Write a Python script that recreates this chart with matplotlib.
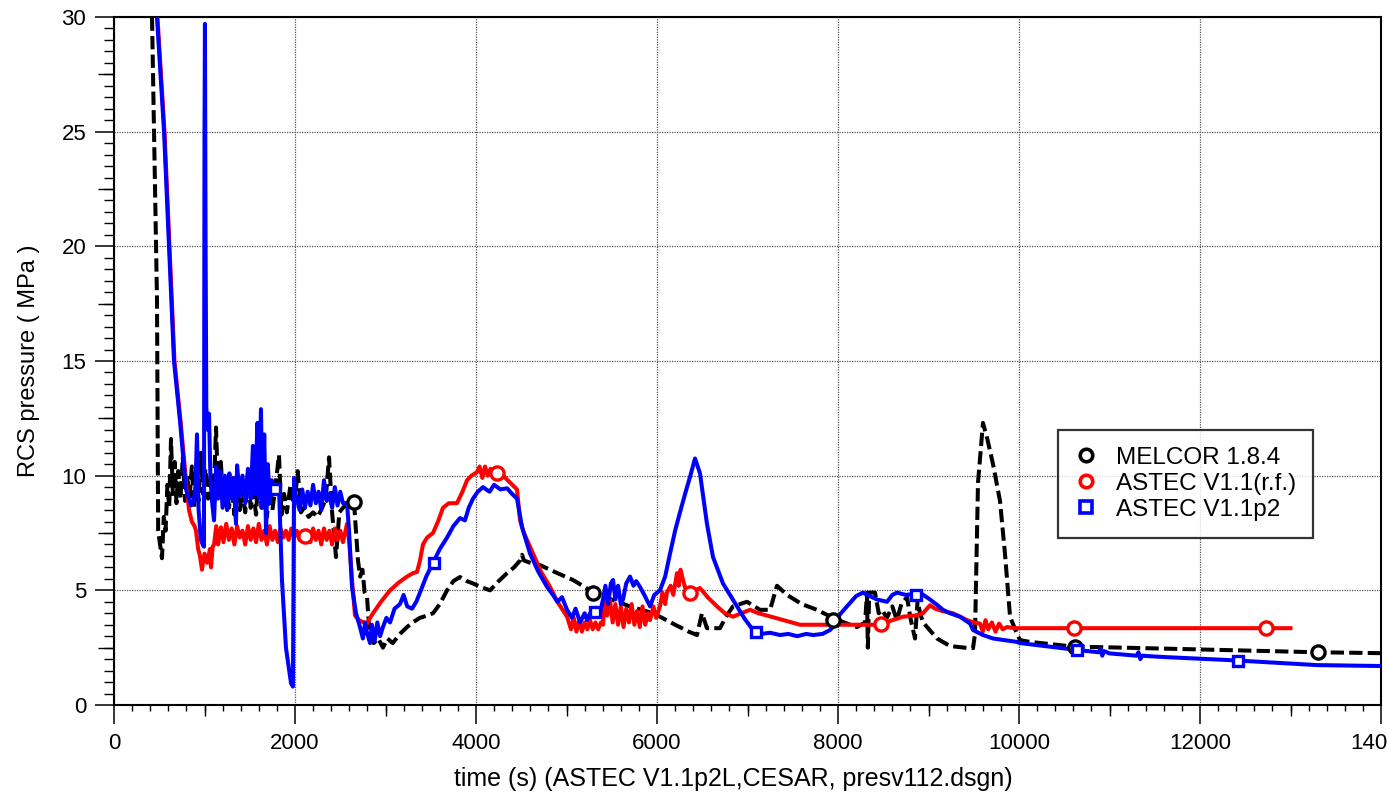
import numpy as np
import matplotlib
matplotlib.use('Agg')
import matplotlib.pyplot as plt
from matplotlib.lines import Line2D
from matplotlib.ticker import MultipleLocator, FixedLocator, NullFormatter

plt.rcParams['font.family'] = ['Liberation Sans', 'DejaVu Sans']

# ---------------- data (time in s, pressure in MPa) ----------------
melcor_t = [400, 420, 475, 488, 530, 550, 570, 590, 610, 630, 650, 670, 690, 710, 735, 760,
            785, 810, 835, 860, 885, 910, 935, 960, 985, 1010, 1040, 1070, 1100, 1127, 1150,
            1180, 1210, 1240, 1270, 1300, 1330, 1360, 1390, 1420, 1450, 1480, 1510, 1540, 1570,
            1600, 1630, 1660, 1690, 1720, 1750, 1780, 1823, 1850, 1880, 1910, 1950, 1990, 2030,
            2066, 2100, 2150, 2200, 2250, 2300, 2340, 2376, 2410, 2453, 2490, 2530, 2580, 2652,
            2675, 2696, 2720, 2745, 2770, 2796, 2829, 2870, 2920, 2972, 3020, 3080, 3160, 3238,
            3300, 3380, 3459, 3525, 3600, 3680, 3750, 3823, 3900, 3967, 4050, 4155, 4250, 4343,
            4420, 4487, 4509, 4530, 4600, 4707, 4900, 5072, 5200, 5293, 5400, 5514, 5700, 5956,
            6033, 6200, 6350, 6442, 6497, 6552, 6696, 6770, 6840, 6995, 7138, 7249, 7326, 7437,
            7600, 7768, 7945, 8100, 8210, 8300, 8320, 8330, 8345, 8409, 8450, 8487, 8540, 8600,
            8650, 8700, 8763, 8800, 8851, 8880, 8906, 8940, 8984, 9094, 9238, 9400, 9492, 9514,
            9547, 9602, 9650, 9713, 9790, 9845, 9901, 9978, 10011, 10122, 10597, 11812, 13293,
            14000]
melcor_p = [33.0, 30.0, 17.7, 7.6, 6.4, 8.2, 7.6, 9.6, 8.6, 11.6, 9.2, 10.6, 8.8, 10.2, 9.0, 10.8,
            8.9, 10.0, 9.0, 10.4, 8.6, 9.8, 8.9, 11.0, 9.2, 10.3, 9.0, 10.0, 8.8, 12.1, 9.4,
            10.6, 8.7, 9.9, 8.6, 9.6, 8.3, 9.9, 8.5, 9.4, 8.4, 10.1, 8.6, 9.3, 8.3,
            10.4, 8.6, 9.2, 8.2, 9.8, 8.5, 9.4, 10.9, 8.3, 9.2, 8.4, 9.6, 8.6, 10.2,
            8.4, 8.6, 8.2, 8.4, 8.2, 8.6, 9.0, 10.8, 8.4, 6.45, 8.4, 8.6, 8.8, 8.85,
            7.5, 6.3, 5.6, 5.9, 4.9, 4.7, 2.83, 2.7, 2.9, 2.5, 2.9, 2.7, 3.1, 3.4,
            3.6, 3.8, 3.9, 4.0, 4.4, 5.0, 5.4, 5.58, 5.4, 5.3, 5.15, 5.0, 5.4, 5.75,
            6.0, 6.3, 6.55, 6.3, 6.2, 6.1, 5.75, 5.45, 5.15, 4.9, 4.75, 4.58, 4.3, 4.0,
            3.85, 3.5, 3.2, 3.05, 4.0, 3.35, 3.35, 3.9, 4.3, 4.5, 4.15, 4.15, 5.2, 4.8,
            4.4, 4.15, 3.8, 3.55, 3.4, 3.6, 4.9, 2.5, 4.9, 4.9, 4.0, 4.15, 3.8, 4.3,
            3.7, 4.4, 4.7, 3.8, 2.9, 4.6, 4.0, 3.6, 3.4, 2.9, 2.57, 2.5, 2.48, 3.1,
            9.7, 12.3, 11.6, 10.5, 8.9, 6.6, 3.85, 3.1, 2.83, 2.75, 2.55, 2.44, 2.3,
            2.26]

rf_t = [440, 480, 558, 613, 668, 735, 800, 829, 860, 890, 906, 930, 950, 972, 1000, 1030,
        1060, 1072, 1090, 1105, 1130, 1150, 1182, 1210, 1240, 1270, 1300, 1330, 1360, 1390,
        1420, 1450, 1480, 1510, 1540, 1570, 1600, 1630, 1660, 1690, 1720, 1750, 1780, 1810,
        1840, 1870, 1900, 1930, 1960, 1990, 2020, 2050, 2080, 2110, 2140, 2170, 2200, 2230,
        2260, 2290, 2320, 2350, 2380, 2410, 2440, 2470, 2500, 2530, 2575, 2597, 2630, 2663,
        2707, 2760, 2796, 2830, 2862, 2950, 3050, 3150, 3238, 3304, 3348, 3381, 3414, 3459,
        3525, 3580, 3635, 3700, 3790, 3850, 3901, 3950, 4011, 4040, 4070, 4100, 4130, 4160,
        4200, 4232, 4265, 4350, 4453, 4487, 4530, 4630, 4720, 4818, 4900, 5006, 5050, 5080,
        5110, 5140, 5170, 5200, 5230, 5260, 5290, 5320, 5350, 5380, 5403, 5426, 5450, 5480,
        5510, 5540, 5570, 5600, 5630, 5660, 5690, 5720, 5750, 5780, 5810, 5840, 5870, 5900,
        5923, 5960, 5990, 6033, 6060, 6090, 6110, 6150, 6180, 6221, 6240, 6260, 6287, 6320,
        6365, 6420, 6475, 6560, 6663, 6750, 6840, 6930, 7028, 7120, 7216, 7400, 7580, 7945,
        8464, 8600, 8718, 8850, 8939, 9017, 9072, 9150, 9271, 9350, 9426, 9500, 9569, 9600,
        9630, 9660, 9700, 9740, 9780, 9820, 9868, 9950, 13000]
rf_p = [32.0, 30.0, 25.0, 20.0, 15.0, 12.4, 9.6, 8.5, 8.0, 7.8, 7.6, 6.8, 6.5, 5.9, 6.6, 6.2,
        6.8, 6.0, 6.9, 7.0, 7.8, 7.0, 7.75, 7.1, 7.9, 7.2, 7.7, 7.0, 7.8, 7.3,
        7.6, 7.0, 7.8, 7.2, 7.7, 7.1, 7.9, 7.2, 7.6, 7.0, 7.8, 7.2, 7.6, 7.1,
        7.7, 7.3, 7.6, 7.2, 7.7, 7.3, 7.6, 7.2, 7.5, 7.4, 7.6, 7.1, 7.7, 7.2,
        7.6, 7.0, 7.7, 7.2, 7.6, 7.0, 7.7, 7.2, 7.6, 7.1, 7.9, 7.2, 5.45, 3.9,
        3.7, 3.6, 3.55, 3.8, 4.0, 4.5, 5.0, 5.35, 5.6, 5.75, 5.8, 6.3, 7.0, 7.3,
        7.5, 8.0, 8.6, 8.8, 8.8, 9.3, 9.8, 10.0, 10.15, 10.4, 9.9, 10.4, 10.0, 10.3,
        10.1, 10.13, 10.15, 9.8, 9.4, 8.05, 7.5, 6.6, 5.8, 5.15, 4.5, 3.85, 3.3, 3.8,
        3.2, 3.7, 3.2, 3.6, 3.3, 3.7, 3.3, 3.6, 3.3, 3.6, 3.5, 4.7, 3.9, 4.6,
        3.6, 4.4, 3.5, 4.3, 3.4, 4.2, 3.6, 4.4, 3.5, 4.1, 3.4, 4.3, 3.5, 4.0,
        3.7, 4.3, 3.8, 4.3, 4.9, 4.4, 4.9, 5.2, 4.8, 5.75, 5.2, 5.9, 5.45, 5.0,
        4.9, 5.0, 5.1, 4.7, 4.3, 4.0, 3.85, 4.0, 4.15, 4.0, 3.9, 3.7, 3.5, 3.5,
        3.5, 3.7, 3.85, 3.9, 4.0, 4.35, 4.2, 4.1, 4.0, 3.85, 3.7, 3.6, 3.55, 3.2,
        3.7, 3.3, 3.6, 3.2, 3.55, 3.3, 3.4, 3.35, 3.35]

p2_t = [440, 475, 553, 608, 663, 729, 796, 851, 880, 900, 917, 935, 960, 980, 994, 1000,
        1005, 1012, 1020, 1035, 1050, 1065, 1080, 1105, 1130, 1150, 1175, 1200, 1225, 1250,
        1275, 1300, 1320, 1348, 1360, 1390, 1420, 1450, 1480, 1510, 1535, 1560, 1585, 1600,
        1624, 1640, 1660, 1680, 1700, 1720, 1745, 1768, 1823, 1856, 1900, 1956, 1977, 1990,
        2000, 2022, 2050, 2080, 2110, 2140, 2170, 2200, 2230, 2260, 2290, 2320, 2350, 2380,
        2410, 2440, 2470, 2500, 2530, 2575, 2597, 2630, 2674, 2718, 2750, 2775, 2796, 2829,
        2850, 2880, 2910, 2940, 2972, 3010, 3050, 3100, 3160, 3200, 3240, 3293, 3340, 3381,
        3450, 3525, 3600, 3680, 3750, 3823, 3878, 3920, 3967, 4020, 4077, 4150, 4200, 4270,
        4343, 4400, 4453, 4509, 4597, 4690, 4785, 4850, 4900, 4950, 5006, 5060, 5100, 5150,
        5200, 5227, 5260, 5315, 5370, 5403, 5430, 5460, 5490, 5514, 5540, 5570, 5600, 5624,
        5660, 5702, 5740, 5770, 5812, 5860, 5923, 5970, 6033, 6090, 6144, 6200, 6254, 6310,
        6365, 6420, 6475, 6552, 6619, 6729, 6884, 6970, 7061, 7150, 7250, 7359, 7450, 7550,
        7650, 7724, 7830, 7912, 7945, 8000, 8099, 8200, 8276, 8350, 8431, 8542, 8600, 8652,
        8750, 8850, 8906, 9017, 9100, 9160, 9238, 9348, 9459, 9492, 9602, 9713, 9978, 10011,
        10641, 10880, 10900, 10920, 10940, 11000, 11300, 11320, 11340, 11360, 11558, 12365,
        13293, 14000]
p2_p = [32.0, 30.0, 25.0, 20.0, 15.0, 12.4, 9.4, 8.7, 8.9, 9.5, 11.8, 8.5, 7.2, 7.0, 6.9, 25.0,
        29.7, 20.0, 13.0, 12.0, 12.7, 10.0, 9.0, 8.05, 10.4, 9.0, 10.2, 8.6, 10.0, 8.5,
        10.1, 9.0, 9.9, 7.9, 10.45, 9.1, 10.0, 8.8, 10.3, 9.0, 11.3, 9.2, 12.3, 9.0,
        12.9, 8.6, 11.8, 7.5, 10.5, 8.8, 9.8, 9.5, 9.5, 5.45, 2.5, 0.95, 0.8, 9.9,
        9.2, 9.05, 8.5, 9.4, 8.6, 9.3, 8.7, 9.6, 8.8, 9.3, 8.5, 9.8, 8.9, 9.2,
        8.6, 9.5, 8.7, 9.3, 8.8, 8.8, 7.6, 5.15, 4.0, 3.4, 2.9, 3.6, 3.15, 2.7,
        3.5, 2.8, 3.6, 3.0, 3.4, 3.8, 3.6, 4.2, 4.4, 4.8, 4.3, 4.2, 4.5, 4.9,
        5.6, 6.2, 6.8, 7.3, 7.8, 8.15, 8.05, 8.6, 9.0, 9.3, 9.5, 9.3, 9.6, 9.4,
        9.45, 9.2, 9.0, 7.75, 6.6, 5.8, 5.15, 4.8, 4.5, 4.7, 4.15, 3.8, 4.2, 3.6,
        4.0, 3.7, 4.0, 4.0, 4.0, 4.6, 5.2, 4.4, 5.3, 5.45, 4.6, 5.2, 4.4, 4.6,
        5.3, 5.6, 5.2, 5.4, 5.15, 4.8, 4.3, 4.8, 5.0, 5.6, 6.6, 7.6, 8.4, 9.2,
        9.95, 10.75, 10.1, 7.9, 6.45, 5.3, 4.3, 3.75, 3.27, 3.1, 3.15, 3.05, 3.1, 3.0,
        3.1, 3.05, 3.1, 3.27, 3.4, 3.85, 4.3, 4.75, 4.9, 4.75, 4.6, 4.5, 4.8, 4.9,
        4.8, 4.85, 4.9, 4.6, 4.35, 4.15, 4.0, 3.85, 3.55, 3.27, 3.05, 2.9, 2.75, 2.7,
        2.4, 2.3, 2.45, 2.15, 2.35, 2.25, 2.15, 2.3, 2.0, 2.15, 2.1, 1.95,
        1.74, 1.7]

# marker positions (symbols drawn along each curve)
melcor_mk_t = [2652, 5293, 7945, 10619, 13304]
melcor_mk_p = [8.83, 4.87, 3.7, 2.52, 2.3]
rf_mk_t = [2110, 4232, 6365, 8475, 10608, 12729]
rf_mk_p = [7.39, 10.13, 4.87, 3.52, 3.35, 3.35]
p2_mk_t = [1779, 3536, 5315, 7094, 8862, 10641, 12420]
p2_mk_p = [9.43, 6.2, 4.04, 3.2, 4.78, 2.4, 1.9]

labels = ['MELCOR 1.8.4', 'ASTEC V1.1(r.f.)', 'ASTEC V1.1p2']
x_ticks = [0, 2000, 4000, 6000, 8000, 10000, 12000, 14000]
y_ticks = [0, 5, 10, 15, 20, 25, 30]

# ---------------- figure ----------------
W, H = 1387, 793
fig = plt.figure(figsize=(W / 100, H / 100), dpi=100)
ax = fig.add_axes([114 / W, 1 - 705 / H, 1267 / W, 688 / H])

lw = 2.9
ax.plot(melcor_t, melcor_p, color='black', lw=lw, dashes=(3.3, 1.3), zorder=3)
ax.plot(rf_t, rf_p, color='#ff0000', lw=lw, zorder=4)
ax.plot(p2_t, p2_p, color='#0000ff', lw=lw, zorder=5)

mk = dict(ls='none', mfc='white', mew=2.4)
ax.plot(melcor_mk_t, melcor_mk_p, marker='o', mec='black', ms=9.5, zorder=6, **mk)
ax.plot(rf_mk_t, rf_mk_p, marker='o', mec='#ff0000', ms=9.5, zorder=6, **mk)
ax.plot(p2_mk_t, p2_mk_p, marker='s', mec='#0000ff', ms=7.5, zorder=6, **mk)

ax.set_xlim(0, 14000)
ax.set_ylim(0, 30)
ax.xaxis.set_major_locator(FixedLocator(x_ticks))
ax.yaxis.set_major_locator(FixedLocator(y_ticks))
ax.xaxis.set_minor_locator(MultipleLocator(200))
ax.yaxis.set_minor_locator(MultipleLocator(0.5))

ax.grid(True, which='major', linestyle=(0, (1, 1)), color='#555555', linewidth=0.9)
ax.set_axisbelow(True)

for s in ax.spines.values():
    s.set_linewidth(1.5)

ax.tick_params(which='major', direction='out', length=14, width=1.1, labelsize=16, pad=6)
ax.tick_params(axis='y', which='minor', direction='out', length=7, width=1.0)
ax.tick_params(axis='x', which='minor', direction='out', length=4.5, width=1.0)

# intermediate (half-decade) ticks
secx = ax.secondary_xaxis('bottom')
secx.xaxis.set_major_locator(FixedLocator([1000, 3000, 5000, 7000, 9000, 11000, 13000]))
secx.xaxis.set_major_formatter(NullFormatter())
secx.tick_params(direction='out', length=8, width=1.0)
secx.spines['bottom'].set_visible(False)
secy = ax.secondary_yaxis('left')
secy.yaxis.set_major_locator(FixedLocator([2.5, 7.5, 12.5, 17.5, 22.5, 27.5]))
secy.yaxis.set_major_formatter(NullFormatter())
secy.tick_params(direction='out', length=11.5, width=1.0)
secy.spines['left'].set_visible(False)

ax.set_xlabel('time (s) (ASTEC V1.1p2L,CESAR, presv112.dsgn)', fontsize=18)
ax.xaxis.set_label_coords((733 - 114) / 1267, -(767 - 705) / 688)
ax.set_ylabel('RCS pressure ( MPa )', fontsize=17)
ax.yaxis.set_label_coords(-(114 - 40) / 1267, 0.5)

handles = [Line2D([], [], ls='none', marker='o', mfc='white', mec='black', ms=9, mew=2.6),
           Line2D([], [], ls='none', marker='o', mfc='white', mec='#ff0000', ms=9, mew=2.6),
           Line2D([], [], ls='none', marker='s', mfc='white', mec='#0000ff', ms=8, mew=2.6)]
leg = ax.legend(handles, labels, loc='upper left', bbox_to_anchor=(0.745, 0.40),
                frameon=True, fancybox=False, fontsize=17.5, handlelength=0.95,
                handletextpad=0.75, borderpad=0.7, labelspacing=0.16, borderaxespad=0)
leg.get_frame().set_edgecolor('black')
leg.get_frame().set_linewidth(1.6)
leg.set_zorder(10)

fig.savefig('out.png', dpi=100)
